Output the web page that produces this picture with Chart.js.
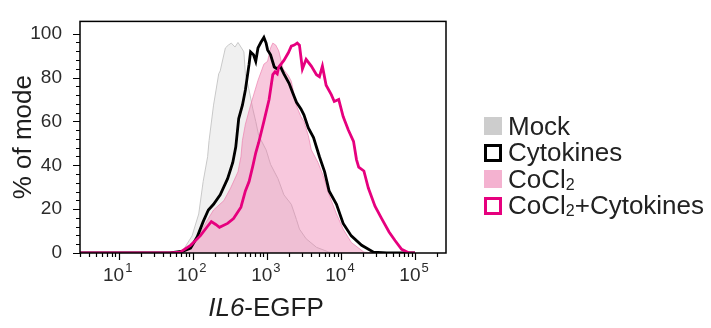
<!DOCTYPE html>
<html>
<head>
<meta charset="utf-8">
<title>IL6-EGFP histogram</title>
<script src="https://cdn.jsdelivr.net/npm/chart.js@4.4.1/dist/chart.umd.min.js"></script>
<style>
    html, body { margin: 0; padding: 0; background: #fff; }
    #wrap { position: relative; width: 711px; height: 328px; font-family: "Liberation Sans", Arial, sans-serif; }
    #legend { position: absolute; left: 484px; top: 113px; color: #222; font-size: 26px; }
    .item { height: 26.5px; display: flex; align-items: center; white-space: nowrap; }
    .swatch { width: 18px; height: 18px; box-sizing: border-box; margin-right: 6px; flex: none; }
    .item sub { font-size: 16px; vertical-align: -2px; line-height: 0; }
</style>
</head>
<body>
<div id="wrap">
    <canvas id="histChart" width="711" height="328"></canvas>
    <div id="legend"></div>
</div>
<script>
// x values are read as log10 of the EGFP intensity, y as % of mode
const mockLogX = [0.48, 1.69, 1.87, 1.99, 2.08, 2.14, 2.20, 2.22, 2.28, 2.35, 2.37, 2.44, 2.48, 2.52, 2.57, 2.61, 2.65, 2.69, 2.71, 2.76, 2.81, 2.85, 2.89, 2.99, 3.05, 3.15, 3.23, 3.33, 3.40, 3.44, 3.53, 3.67, 3.84, 4.01, 5.00];
const mockY    = [0, 0, 1.3, 7.8, 17.8, 32.6, 43.9, 51.3, 67.4, 81.7, 83, 93.5, 94.8, 95.7, 93.9, 96, 93.9, 91.7, 81.7, 74.3, 65.7, 60, 53.5, 47, 40.4, 33.9, 26.5, 22.2, 15.2, 10.9, 6.5, 2.6, 0.4, 0, 0];

const cytoLogX = [0.48, 1.69, 1.87, 1.97, 2.06, 2.14, 2.21, 2.28, 2.37, 2.47, 2.54, 2.58, 2.62, 2.67, 2.71, 2.76, 2.78, 2.82, 2.85, 2.88, 2.92, 2.96, 2.99, 3.01, 3.05, 3.10, 3.14, 3.18, 3.23, 3.30, 3.35, 3.40, 3.46, 3.50, 3.56, 3.63, 3.71, 3.78, 3.84, 3.94, 4.03, 4.14, 4.28, 4.44, 4.62, 5.00];
const cytoY    = [0, 0, 0.9, 2.2, 7.4, 14.3, 19.6, 22.2, 26.5, 33.9, 41.3, 48.3, 61.3, 67.4, 74.3, 86.1, 91.7, 90.4, 87.4, 93.5, 96.1, 98.3, 95.7, 92.6, 90.4, 84.8, 83.9, 85.2, 81.7, 77.4, 73, 68.7, 65.7, 63, 57, 52.6, 43.9, 37, 28.3, 22.2, 13.5, 7.8, 3.5, 0.4, 0, 0];

const cocl2LogX = [0.48, 1.76, 1.87, 1.97, 2.10, 2.20, 2.28, 2.42, 2.51, 2.61, 2.65, 2.67, 2.71, 2.78, 2.88, 2.96, 3.01, 3.05, 3.08, 3.12, 3.16, 3.22, 3.29, 3.33, 3.40, 3.46, 3.50, 3.56, 3.60, 3.69, 3.76, 3.84, 3.94, 4.03, 4.14, 4.31, 4.44, 5.00];
const cocl2Y    = [0, 0, 0.4, 2.6, 9.1, 15.2, 19.6, 23.9, 29.6, 37, 43.9, 51.3, 58.7, 67.4, 78.7, 86.1, 87.4, 93.5, 95.7, 94.8, 92.2, 83.9, 80.9, 78.3, 67, 62.2, 60, 53.5, 47, 41.3, 35.2, 26.5, 17.8, 10.9, 4.8, 0.4, 0, 0];

const comboLogX = [0.48, 1.69, 1.83, 1.97, 2.10, 2.20, 2.25, 2.31, 2.36, 2.47, 2.55, 2.65, 2.71, 2.76, 2.81, 2.85, 2.89, 2.96, 3.03, 3.08, 3.11, 3.14, 3.16, 3.23, 3.29, 3.33, 3.37, 3.41, 3.44, 3.48, 3.53, 3.60, 3.67, 3.71, 3.75, 3.80, 3.87, 3.91, 3.97, 4.03, 4.10, 4.17, 4.21, 4.24, 4.31, 4.37, 4.46, 4.55, 4.65, 4.73, 4.82, 4.92, 5.00];
const comboY    = [0, 0, 0.4, 3.5, 7.8, 12.2, 14.3, 13, 11.7, 13.5, 15.7, 20.9, 28.3, 32.6, 39.6, 45.7, 50.4, 60, 70, 81.3, 82.6, 81.7, 84.8, 87.8, 91.3, 94.3, 94.8, 95.7, 94.8, 83.9, 88.3, 85.2, 81.3, 80.4, 85.2, 76.5, 72.2, 69.1, 70, 62.2, 56.1, 50.9, 42.6, 39.1, 37.4, 29.6, 21.3, 15.7, 9.6, 5.7, 1.7, 0, 0];

const seriesNames = ['Mock', 'Cytokines', 'CoCl\u2082', 'CoCl\u2082+Cytokines'];
const yTickValues = [0, 20, 40, 60, 80, 100];
const xTickValues = [10, 100, 1000, 10000, 100000];

function toPoints(logX, ys) {
    return logX.map((lx, i) => ({ x: Math.pow(10, lx), y: ys[i] }));
}

const legendStyles = [
    { fill: '#cdcdcd', border: 'none' },
    { fill: '#fff', border: '3px solid #000' },
    { fill: '#f4b2d0', border: 'none' },
    { fill: '#fff', border: '3px solid #e6007e' }
];

// Minor ticks, axes frame, x tick labels and the mixed-style x title
const framePlugin = {
    id: 'frame',
    afterDraw(chart) {
        const ctx = chart.ctx;
        const area = chart.chartArea;
        const xs = chart.scales.x;
        const ys = chart.scales.y;

        ctx.save();
        ctx.strokeStyle = '#000';
        ctx.lineWidth = 1.5;
        ctx.strokeRect(area.left, area.top, area.right - area.left, area.bottom - area.top);

        ctx.lineWidth = 1.2;
        ctx.beginPath();
        // y ticks
        for (let v = 0; v <= 100; v += 4) {
            const py = Math.round(ys.getPixelForValue(v)) + 0.5;
            const len = v % 20 === 0 ? 7 : 4;
            ctx.moveTo(area.left, py);
            ctx.lineTo(area.left - len, py);
        }
        // x ticks
        for (let d = 1; d <= 100000; d *= 10) {
            for (let k = 1; k <= 9; k++) {
                const v = k * d;
                if (v < xs.min || v > xs.max) continue;
                const px = Math.round(xs.getPixelForValue(v)) + 0.5;
                const len = k === 1 ? 7 : 4;
                ctx.moveTo(px, area.bottom);
                ctx.lineTo(px, area.bottom + len);
            }
        }
        ctx.stroke();

        // x tick labels: 10 with raised exponent
        ctx.fillStyle = '#2b2b2b';
        ctx.textBaseline = 'alphabetic';
        ctx.textAlign = 'left';
        xTickValues.forEach(v => {
            const px = xs.getPixelForValue(v);
            const exp = String(Math.round(Math.log10(v)));
            ctx.font = '19px "Liberation Sans", Arial, sans-serif';
            const w1 = ctx.measureText('10').width;
            ctx.font = '13px "Liberation Sans", Arial, sans-serif';
            const w2 = ctx.measureText(exp).width;
            const start = px - (w1 + w2 + 1) / 2 - 1;
            ctx.font = '19px "Liberation Sans", Arial, sans-serif';
            ctx.fillText('10', start, 281);
            ctx.font = '13px "Liberation Sans", Arial, sans-serif';
            ctx.fillText(exp, start + w1 + 1, 272);
        });

        // x title: italic gene name
        ctx.fillStyle = '#1e1e1e';
        const italic = 'italic 26px "Liberation Sans", Arial, sans-serif';
        const normal = '26px "Liberation Sans", Arial, sans-serif';
        ctx.font = italic;
        const wa = ctx.measureText('IL6').width;
        ctx.font = normal;
        const wb = ctx.measureText('-EGFP').width;
        const x0 = 266 - (wa + wb) / 2;
        ctx.font = italic;
        ctx.fillText('IL6', x0, 316);
        ctx.font = normal;
        ctx.fillText('-EGFP', x0 + wa, 316);
        ctx.restore();
    }
};

function loadChart() {
    const ctx = document.getElementById('histChart');

    const chart = new Chart(ctx, {
        type: 'line',
        data: {
            datasets: [{
                label: seriesNames[0],
                data: toPoints(mockLogX, mockY),
                borderColor: '#c9c9c9',
                borderWidth: 1,
                backgroundColor: 'rgba(150, 150, 150, 0.14)',
                fill: 'origin',
                order: 4
            }, {
                label: seriesNames[1],
                data: toPoints(cytoLogX, cytoY),
                borderColor: '#000',
                borderWidth: 2.8,
                fill: false,
                order: 2
            }, {
                label: seriesNames[2],
                data: toPoints(cocl2LogX, cocl2Y),
                borderColor: 'rgba(236, 130, 175, 0.7)',
                borderWidth: 1,
                backgroundColor: 'rgba(236, 110, 165, 0.38)',
                fill: 'origin',
                order: 3
            }, {
                label: seriesNames[3],
                data: toPoints(comboLogX, comboY),
                borderColor: '#e6007e',
                borderWidth: 2.8,
                fill: false,
                order: 1
            }]
        },
        options: {
            responsive: false,
            animation: false,
            elements: {
                point: { radius: 0 },
                line: { tension: 0 }
            },
            layout: {
                padding: { left: 8, top: 10, right: 265, bottom: 0 }
            },
            plugins: {
                legend: { display: false },
                tooltip: { enabled: false }
            },
            scales: {
                x: {
                    type: 'logarithmic',
                    min: 3,
                    max: 262144,
                    grid: { display: false },
                    border: { display: false },
                    ticks: { display: false },
                    afterFit: function(scale) {
                        scale.height = 75;
                    }
                },
                y: {
                    min: 0,
                    max: 105.6,
                    grid: { display: false },
                    border: { display: false },
                    ticks: {
                        color: '#2b2b2b',
                        padding: 10,
                        font: { family: '"Liberation Sans", Arial, sans-serif', size: 19 }
                    },
                    afterBuildTicks: function(scale) {
                        scale.ticks = yTickValues.map(v => ({ value: v }));
                    },
                    afterFit: function(scale) {
                        scale.width = 72;
                    },
                    title: {
                        display: true,
                        text: '% of mode',
                        color: '#1e1e1e',
                        padding: { top: 0, bottom: 0 },
                        font: { family: '"Liberation Sans", Arial, sans-serif', size: 26 }
                    }
                }
            }
        },
        plugins: [framePlugin]
    });

    // HTML legend built from the dataset labels
    const legend = document.getElementById('legend');
    chart.data.datasets.forEach((ds, i) => {
        const row = document.createElement('div');
        row.className = 'item';
        const sw = document.createElement('span');
        sw.className = 'swatch';
        sw.style.background = legendStyles[i].fill;
        sw.style.border = legendStyles[i].border;
        const txt = document.createElement('span');
        txt.innerHTML = ds.label.replace(/\u2082/g, '<sub>2</sub>');
        row.appendChild(sw);
        row.appendChild(txt);
        legend.appendChild(row);
    });
}

loadChart();
</script>
</body>
</html>
